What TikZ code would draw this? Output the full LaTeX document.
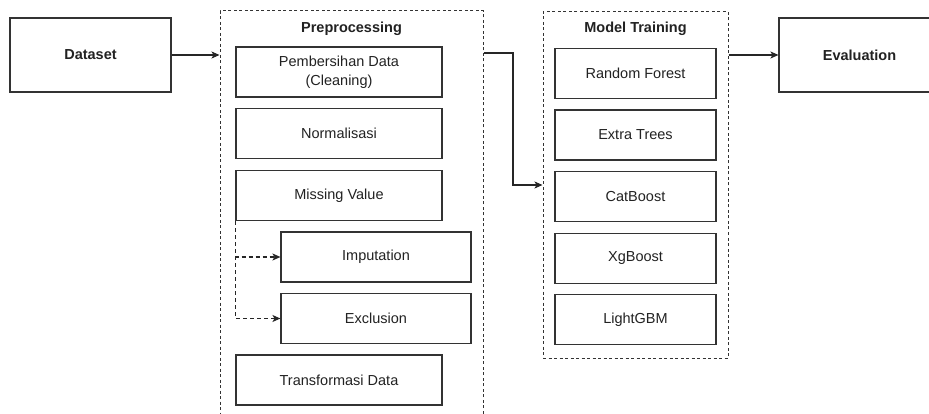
\documentclass[tikz,border=0pt]{standalone}
\usepackage{fontspec}
\setmainfont{Liberation Sans}
\usetikzlibrary{arrows.meta,calc}
\definecolor{edge}{HTML}{333333}
\definecolor{txt}{HTML}{222222}
\tikzset{
  box/.style={draw=edge, line width=1.1pt, fill=white, inner sep=0pt, text=txt,
    font=\fontsize{14.5}{19}\selectfont, align=center},
  bigbox/.style={box, minimum width=161pt, minimum height=74pt, font=\fontsize{14.5}{19}\selectfont\bfseries},
  wbox/.style={box, minimum width=206pt, minimum height=50pt},
  sbox/.style={box, minimum width=190pt, minimum height=50pt},
  mbox/.style={box, minimum width=161pt, minimum height=50pt},
  group/.style={draw=edge, line width=1pt, dash pattern=on 3pt off 2.5pt, inner sep=0pt},
  title/.style={text=txt, font=\fontsize{14.5}{19}\selectfont\bfseries, inner sep=0pt},
  conn/.style={draw=black!85, line width=1.1pt, -{Stealth[length=8pt,width=7pt,inset=2pt]}},
  dconn/.style={conn, dash pattern=on 4pt off 3pt}
}
\begin{document}
\begin{tikzpicture}[x=1pt,y=-1pt]
\useasboundingbox (0,0) rectangle (929,414);
% containers
\node[group, minimum width=263pt, minimum height=409pt] (prep) at (351.5,215.5) {};
\node[group, minimum width=185pt, minimum height=346pt] (mt) at (635.5,185) {};
\node[title] (preptitle) at (351.5,29) {Preprocessing};
\node[title] (mttitle) at (635.5,29) {Model Training};
% main boxes
\node[bigbox] (data) at (90.5,55) {Dataset};
\node[bigbox] (eval) at (859.5,55) {Evaluation};
% preprocessing steps
\node[wbox] (clean) at (339,72) {Pembersihan Data\\(Cleaning)};
\node[wbox] (norm) at (339,133.5) {Normalisasi};
\node[wbox] (miss) at (339,195.5) {Missing Value};
\node[sbox] (imp) at (376,257) {Imputation};
\node[sbox] (excl) at (376,318.5) {Exclusion};
\node[wbox] (trans) at (339,380) {Transformasi Data};
% models
\node[mbox] (rf) at (635.5,73.5) {Random Forest};
\node[mbox] (et) at (635.5,135) {Extra Trees};
\node[mbox] (cb) at (635.5,196.5) {CatBoost};
\node[mbox] (xg) at (635.5,258.5) {XgBoost};
\node[mbox] (lg) at (635.5,319.5) {LightGBM};
% connectors
\draw[conn] (data.east) -- (data.east -| prep.west);
\coordinate (bend) at (513,53);
\draw[conn] (prep.east |- bend) -- (bend) |- (mt.west);
\draw[conn] (mt.east |- eval.west) -- (eval.west);
\draw[dconn] (miss.south west) |- (imp.west);
\draw[dconn] (miss.south west) |- (excl.west);
\end{tikzpicture}
\end{document}
